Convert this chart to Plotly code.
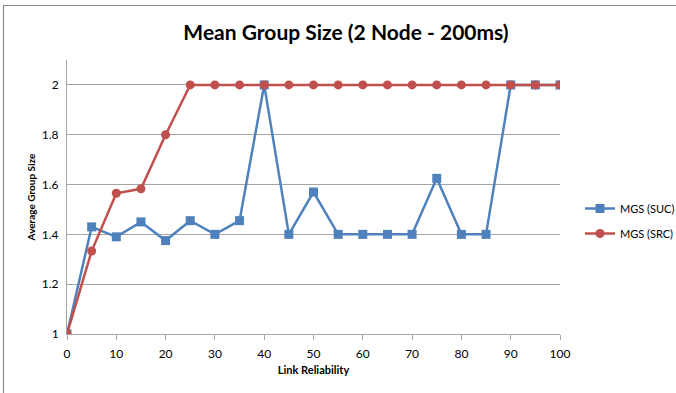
import plotly.graph_objects as go

x_vals = [0, 5, 10, 15, 20, 25, 30, 35, 40, 45, 50, 55, 60, 65, 70, 75, 80, 85, 90, 95, 100]
mgs_suc = [1.0, 1.43, 1.39, 1.45, 1.375, 1.455, 1.4, 1.455, 2.0, 1.4, 1.57, 1.4, 1.4, 1.4, 1.4, 1.625, 1.4, 1.4, 2.0, 2.0, 2.0]
mgs_src = [1.0, 1.333, 1.565, 1.583, 1.8, 2.0, 2.0, 2.0, 2.0, 2.0, 2.0, 2.0, 2.0, 2.0, 2.0, 2.0, 2.0, 2.0, 2.0, 2.0, 2.0]
y_ticks = [1, 1.2, 1.4, 1.6, 1.8, 2]
y_tick_labels = ["1", "1.2", "1.4", "1.6", "1.8", "2"]
x_ticks = [0, 10, 20, 30, 40, 50, 60, 70, 80, 90, 100]

W, H = 676, 393
L, R, T, B = 67, 116, 60, 59
pw, ph = W - L - R, H - T - B

font = "Lato, Carlito, Calibri, sans-serif"
gray = "#a6a6a6"

fig = go.Figure()
fig.add_trace(go.Scatter(
    x=x_vals, y=mgs_suc, name="MGS (SUC)", mode="lines+markers", legendgroup="suc",
    line=dict(color="#4F81BD", width=2.5),
    marker=dict(symbol="square", size=9, color="#4F81BD"),
))
fig.add_trace(go.Scatter(
    x=x_vals, y=mgs_src, name="MGS (SRC)", mode="lines+markers", legendgroup="src",
    line=dict(color="#C0504D", width=2.5),
    marker=dict(symbol="circle", size=9, color="#C0504D"),
))

def px_x(p):
    return (p - L) / pw

def px_y(p):
    return (H - B - p) / ph

fig.add_shape(type="rect", xref="paper", yref="paper",
              x0=px_x(3.5), x1=px_x(680), y0=px_y(398), y1=px_y(5.5),
              line=dict(color="#8c8c8c", width=1.2), fillcolor="rgba(0,0,0,0)",
              layer="below")

fig.update_layout(
    width=W, height=H,
    margin=dict(l=L, r=R, t=T, b=B, autoexpand=False),
    paper_bgcolor="white", plot_bgcolor="white",
    title=dict(text="<b>Mean Group Size (2 Node - 200ms)</b>", x=px_x(346), xanchor="center",
               xref="paper", y=1 - 33 / H, yanchor="middle",
               font=dict(family=font, size=21, color="black")),
    font=dict(family=font, color="black"),
    legend=dict(x=px_x(580), xanchor="left", y=px_y(221), yanchor="middle",
                font=dict(family=font, size=11, color="black"),
                bgcolor="rgba(0,0,0,0)", itemwidth=30, tracegroupgap=6),
    showlegend=True,
)
fig.update_xaxes(
    range=[0, 100], tickvals=x_ticks, ticktext=[str(v) for v in x_ticks],
    showgrid=False, zeroline=False, showline=True, linecolor=gray, linewidth=1,
    ticks="outside", ticklen=5, tickcolor=gray, ticklabelstandoff=4,
    tickfont=dict(family=font, size=12, color="black"),
    title=dict(text="<b>Link Reliability</b>", font=dict(family=font, size=11, color="black"), standoff=5),
)
fig.update_yaxes(
    range=[1, 2.1], tickvals=y_ticks, ticktext=y_tick_labels,
    showgrid=True, gridcolor=gray, gridwidth=1, zeroline=False,
    showline=True, linecolor=gray, linewidth=1,
    ticks="", ticklabelstandoff=5, tickfont=dict(family=font, size=12, color="black"),
    title=dict(text="<b>Average Group Size</b>", font=dict(family=font, size=10, color="black"), standoff=4),
)

fig.write_html("out.html")
